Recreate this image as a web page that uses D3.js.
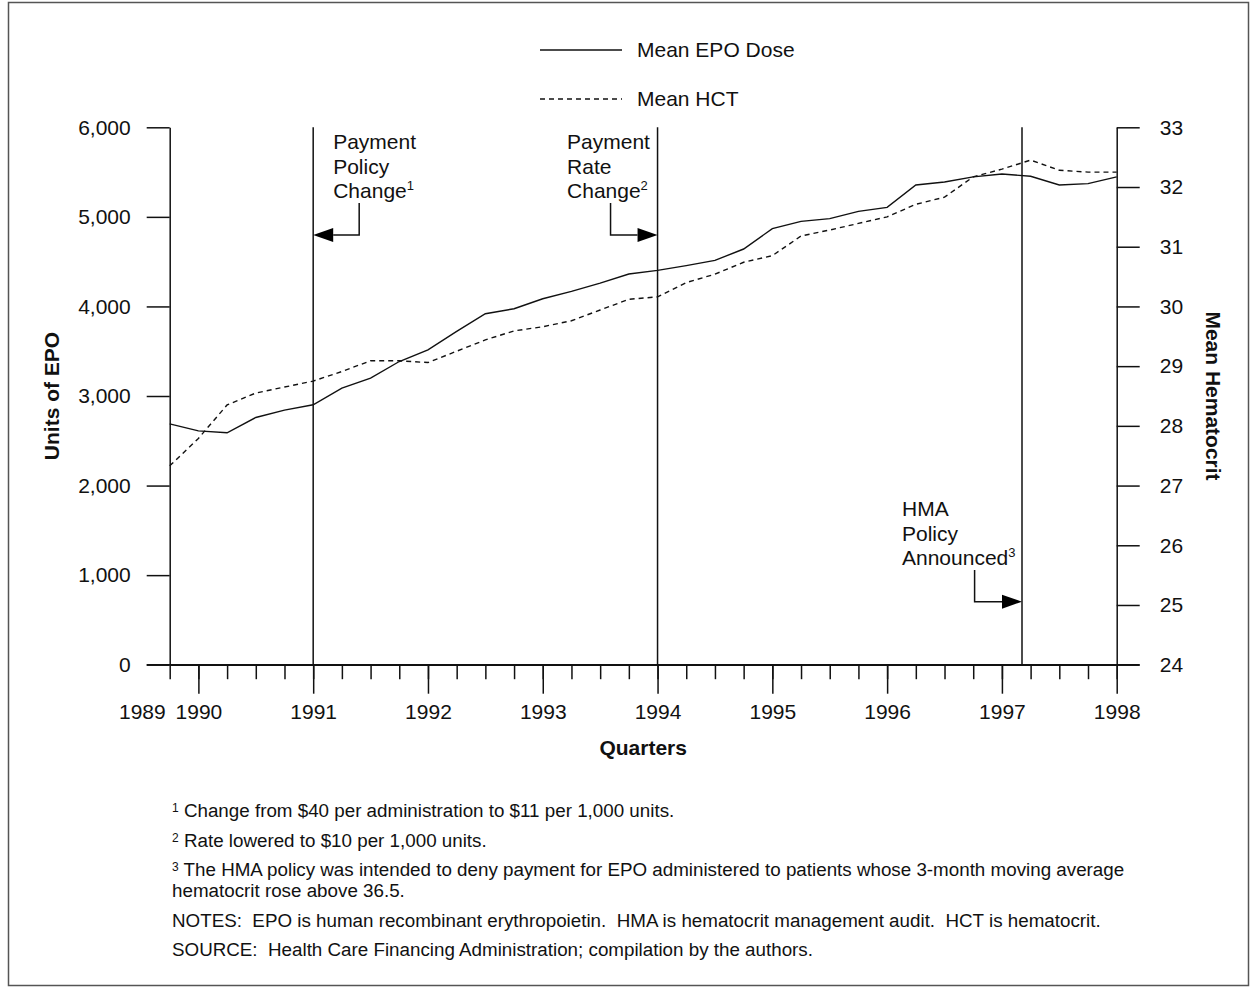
<!DOCTYPE html>
<html>
<head>
<meta charset="utf-8">
<script src="https://cdn.jsdelivr.net/npm/d3@7"></script>
<style>
  html, body { margin: 0; padding: 0; background: #fff; }
  svg { display: block; font-family: "Liberation Sans", Arial, Helvetica, sans-serif; }
  text { white-space: pre; }
</style>
</head>
<body>
<svg id="chart" width="1250" height="988"></svg>
<script>
// ---------- data ----------
// quarter index 0 = 1989 Q4 ... 33 = 1998 Q1
const quarters = d3.range(0, 34);
const epoDose = [2689, 2611, 2589, 2760, 2842, 2902, 3088, 3200, 3385, 3516,
                 3721, 3918, 3974, 4086, 4168, 4261, 4362, 4402, 4455, 4514,
                 4641, 4868, 4950, 4980, 5062, 5106, 5356, 5390, 5446, 5479,
                 5453, 5356, 5371, 5446];
const meanHct = [27.33, 27.79, 28.35, 28.55, 28.65, 28.75, 28.91, 29.09, 29.09, 29.06,
                 29.25, 29.44, 29.59, 29.66, 29.76, 29.94, 30.12, 30.16, 30.40, 30.54,
                 30.74, 30.85, 31.18, 31.28, 31.39, 31.50, 31.71, 31.83, 32.17, 32.30,
                 32.45, 32.28, 32.25, 32.25];
const yearTickQuarters = [1, 5, 9, 13, 17, 21, 25, 29, 33];
const yearTickLabels = ["1990", "1991", "1992", "1993", "1994", "1995", "1996", "1997", "1998"];
const firstQuarterLabel = "1989";
const leftTicks = [0, 1000, 2000, 3000, 4000, 5000, 6000];
const rightTicks = [24, 25, 26, 27, 28, 29, 30, 31, 32, 33];
const eventQuarters = [5, 17, 29.7];
const eventLabels = [["Payment", "Policy", "Change"], ["Payment", "Rate", "Change"], ["HMA", "Policy", "Announced"]];
const eventNotes = ["1", "2", "3"];
const seriesNames = ["Mean EPO Dose", "Mean HCT"];
const footnotes = [
  {sup: "1", lines: ["Change from $40 per administration to $11 per 1,000 units."]},
  {sup: "2", lines: ["Rate lowered to $10 per 1,000 units."]},
  {sup: "3", lines: ["The HMA policy was intended to deny payment for EPO administered to patients whose 3-month moving average",
                     "hematocrit rose above 36.5."]},
  {sup: "", lines: ["NOTES:  EPO is human recombinant erythropoietin.  HMA is hematocrit management audit.  HCT is hematocrit."]},
  {sup: "", lines: ["SOURCE:  Health Care Financing Administration; compilation by the authors."]}
];

// ---------- layout ----------
const svg = d3.select("#chart");
const FS = 21;
const plot = {left: 169.7, right: 1116.7, top: 127.3, bottom: 664.7};

svg.append("rect").attr("x", 8.5).attr("y", 2.5).attr("width", 1240).attr("height", 983)
  .attr("fill", "none").attr("stroke", "#555").attr("stroke-width", 1.5);

const x = d3.scaleLinear().domain([0, 33]).range([plot.left, plot.right]);
const yL = d3.scaleLinear().domain([0, 6000]).range([plot.bottom, plot.top]);
const yR = d3.scaleLinear().domain([24, 33]).range([plot.bottom, plot.top]);

function styleAxis(g) {
  g.selectAll("path, line").attr("stroke", "#111").attr("stroke-width", 1.5);
  g.selectAll("text").attr("fill", "#111").style("font-size", FS + "px")
    .style("font-family", '"Liberation Sans", Arial, sans-serif');
}

// left axis
svg.append("g").attr("transform", `translate(${plot.left},0)`)
  .call(d3.axisLeft(yL).tickValues(leftTicks).tickFormat(d3.format(",")).tickSize(23).tickSizeOuter(0).tickPadding(16))
  .call(styleAxis);

// right axis
svg.append("g").attr("transform", `translate(${plot.right},0)`)
  .call(d3.axisRight(yR).tickValues(rightTicks).tickSize(23).tickSizeOuter(0).tickPadding(20))
  .call(styleAxis);

// bottom axis: minor ticks
svg.append("g").attr("transform", `translate(0,${plot.bottom})`)
  .call(d3.axisBottom(x).tickValues(quarters).tickFormat("").tickSize(14.5).tickSizeOuter(0))
  .call(styleAxis);
// bottom axis: major ticks with year labels
const major = svg.append("g").attr("transform", `translate(0,${plot.bottom})`)
  .call(d3.axisBottom(x).tickValues(yearTickQuarters)
    .tickFormat((d, i) => yearTickLabels[i]).tickSize(29).tickSizeOuter(0).tickPadding(10.5))
  .call(styleAxis);
major.select(".domain").attr("d", `M${plot.left - 23},0H${plot.right + 23}`);
svg.append("text").attr("x", x(0) - 4).attr("y", plot.bottom + 29 + 10.5).attr("dy", "0.71em")
  .attr("text-anchor", "end").style("font-size", FS + "px").attr("fill", "#111").text(firstQuarterLabel);

// axis titles
svg.append("text").attr("transform", "translate(59,396) rotate(-90)").attr("text-anchor", "middle")
  .style("font-size", FS + "px").style("font-weight", "bold").attr("fill", "#111").text("Units of EPO");
svg.append("text").attr("transform", "translate(1206,396) rotate(90)").attr("text-anchor", "middle")
  .style("font-size", FS + "px").style("font-weight", "bold").attr("fill", "#111").text("Mean Hematocrit");
svg.append("text").attr("x", (plot.left + plot.right) / 2).attr("y", 755).attr("text-anchor", "middle")
  .style("font-size", FS + "px").style("font-weight", "bold").attr("fill", "#111").text("Quarters");

// event lines
svg.selectAll(".event").data(eventQuarters).join("line")
  .attr("x1", d => x(d)).attr("x2", d => x(d)).attr("y1", yL(6000)).attr("y2", plot.bottom)
  .attr("stroke", "#111").attr("stroke-width", 1.5);

// event annotations
const evLayout = [
  {tx: 20, ty: 149, ax: 46, ay1: 203, ay2: 235, dir: -1},
  {tx: -90.5, ty: 149, ax: -47, ay1: 203, ay2: 235, dir: 1},
  {tx: -120, ty: 516, ax: -47.4, ay1: 570, ay2: 601.7, dir: 1}
];
eventQuarters.forEach((q, i) => {
  const L = evLayout[i], ex = x(q);
  const t = svg.append("text").attr("x", ex + L.tx).attr("y", L.ty)
    .style("font-size", FS + "px").attr("fill", "#111");
  eventLabels[i].forEach((s, j) => {
    t.append("tspan").attr("x", ex + L.tx).attr("y", L.ty + j * 24.5).text(s);
  });
  t.append("tspan").attr("dy", -8).style("font-size", "13px").text(eventNotes[i]);
  const vx = ex + L.ax;
  const headLen = 20, hw = 7;
  const baseX = ex - L.dir * headLen;
  svg.append("path").attr("d", `M${vx},${L.ay1}V${L.ay2}H${baseX}`)
    .attr("fill", "none").attr("stroke", "#111").attr("stroke-width", 1.5);
  svg.append("path").attr("d", `M${ex},${L.ay2}L${baseX},${L.ay2 - hw}L${baseX},${L.ay2 + hw}Z`)
    .attr("fill", "#000");
});

// data lines
const lineEpo = d3.line().x((d, i) => x(quarters[i])).y(d => yL(d));
const lineHct = d3.line().x((d, i) => x(quarters[i])).y(d => yR(d));
svg.append("path").datum(epoDose).attr("d", lineEpo).attr("fill", "none")
  .attr("stroke", "#111").attr("stroke-width", 1.4);
svg.append("path").datum(meanHct).attr("d", lineHct).attr("fill", "none")
  .attr("stroke", "#111").attr("stroke-width", 1.4).attr("stroke-dasharray", "5,4");

// legend
const legY = [50, 99];
seriesNames.forEach((name, i) => {
  svg.append("line").attr("x1", 540).attr("x2", 622).attr("y1", legY[i]).attr("y2", legY[i])
    .attr("stroke", "#111").attr("stroke-width", 1.4).attr("stroke-dasharray", i === 1 ? "5,4" : null);
  svg.append("text").attr("x", 637).attr("y", legY[i]).attr("dy", "0.35em")
    .style("font-size", FS + "px").attr("fill", "#111").text(name);
});

// footnotes
const fnBase = [817, 847, 876, 927, 956];
const FFS = 18.8;
footnotes.forEach((f, i) => {
  f.lines.forEach((s, j) => {
    const t = svg.append("text").attr("x", 172).attr("y", fnBase[i] + j * 20.5)
      .style("font-size", FFS + "px").attr("fill", "#111");
    if (j === 0 && f.sup) {
      t.append("tspan").attr("dy", -5).style("font-size", "12px").text(f.sup);
      t.append("tspan").attr("dy", 5).text(" " + s);
    } else {
      t.text(s);
    }
  });
});
</script>
</body>
</html>
